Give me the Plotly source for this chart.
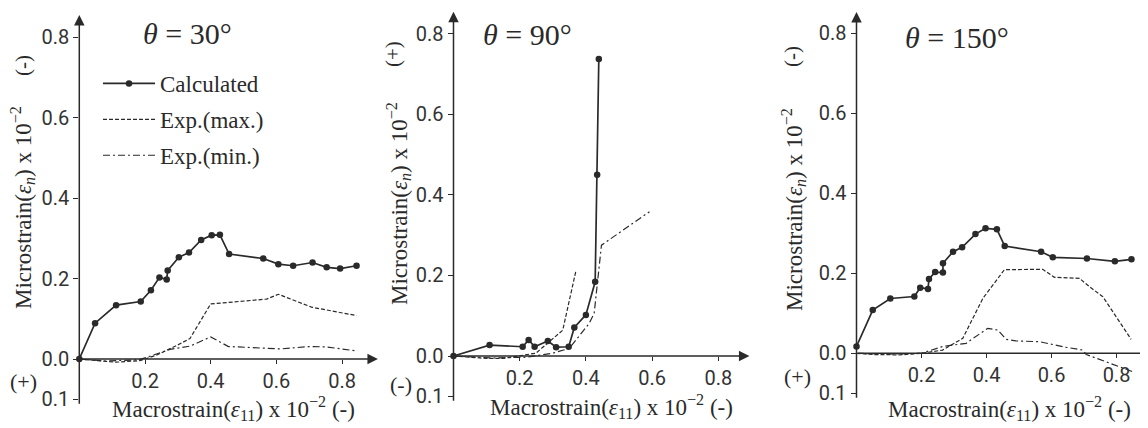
import plotly.graph_objects as go

# ---------------- data ----------------
# theta = 30
p1_calc_x = [0.0, 0.048, 0.112, 0.187, 0.218, 0.244, 0.266, 0.269, 0.303, 0.334, 0.371, 0.403, 0.428, 0.456, 0.56, 0.606, 0.651, 0.71, 0.753, 0.794, 0.844]
p1_calc_y = [0.0, 0.089, 0.134, 0.143, 0.171, 0.203, 0.198, 0.22, 0.253, 0.265, 0.296, 0.308, 0.309, 0.261, 0.25, 0.236, 0.232, 0.24, 0.228, 0.225, 0.232]
p1_max_x = [0.0, 0.11, 0.185, 0.236, 0.30, 0.337, 0.40, 0.484, 0.57, 0.606, 0.707, 0.844]
p1_max_y = [0.0, -0.008, -0.004, 0.01, 0.035, 0.051, 0.137, 0.1425, 0.149, 0.161, 0.129, 0.108]
p1_min_x = [0.0, 0.08, 0.18, 0.205, 0.276, 0.337, 0.40, 0.454, 0.484, 0.611, 0.702, 0.753, 0.844]
p1_min_y = [0.0, -0.005, -0.002, 0.004, 0.024, 0.032, 0.055, 0.031, 0.03, 0.025, 0.031, 0.03, 0.02]

# theta = 90
p2_calc_x = [0.0, 0.109, 0.209, 0.227, 0.245, 0.285, 0.31, 0.348, 0.365, 0.40, 0.428, 0.434, 0.439]
p2_calc_y = [0.0, 0.027, 0.023, 0.04, 0.023, 0.037, 0.022, 0.023, 0.071, 0.102, 0.184, 0.45, 0.737]
p2_max_x = [0.0, 0.10, 0.15, 0.249, 0.33, 0.37]
p2_max_y = [0.0, -0.006, -0.006, 0.007, 0.064, 0.212]
p2_min_x = [0.0, 0.12, 0.22, 0.30, 0.35, 0.41, 0.425, 0.447, 0.592]
p2_min_y = [0.0, -0.005, -0.003, 0.007, 0.019, 0.081, 0.106, 0.275, 0.358]

# theta = 150
p3_calc_x = [0.0, 0.05, 0.104, 0.178, 0.196, 0.22, 0.223, 0.242, 0.266, 0.266, 0.297, 0.325, 0.366, 0.397, 0.432, 0.456, 0.568, 0.604, 0.709, 0.795, 0.846]
p3_calc_y = [0.017, 0.108, 0.137, 0.142, 0.164, 0.161, 0.186, 0.203, 0.202, 0.225, 0.254, 0.265, 0.298, 0.3125, 0.31, 0.268, 0.254, 0.24, 0.237, 0.23, 0.235]
p3_max_x = [0.0, 0.05, 0.132, 0.2, 0.265, 0.327, 0.389, 0.455, 0.573, 0.609, 0.686, 0.717, 0.758, 0.845]
p3_max_y = [0.0, -0.003, -0.004, 0.0, 0.008, 0.0375, 0.1375, 0.209, 0.21, 0.19, 0.1875, 0.1665, 0.1415, 0.035]
p3_min_x = [0.0, 0.1, 0.2, 0.265, 0.337, 0.404, 0.435, 0.46, 0.49, 0.563, 0.645, 0.696, 0.707, 0.778, 0.85]
p3_min_y = [0.0, -0.002, 0.0, 0.017, 0.025, 0.0625, 0.058, 0.035, 0.031, 0.029, 0.015, 0.008, -0.003, -0.025, -0.046]

x_ticks = [0.2, 0.4, 0.6, 0.8]
x_ticktext = ["0.2", "0.4", "0.6", "0.8"]
y_ticks = [-0.1, 0.0, 0.2, 0.4, 0.6, 0.8]
y_ticktext = ["0.1", "0.0", "0.2", "0.4", "0.6", "0.8"]

titles = ["<i>θ</i> = 30°", "<i>θ</i> = 90°", "<i>θ</i> = 150°"]
series_names = ["Calculated", "Exp.(max.)", "Exp.(min.)"]
top_signs = ["(-)", "(+)", "(-)"]
bottom_signs = ["(+)", "(-)", "(+)"]

# ---------------- layout geometry (page pixels) ----------------
PAGE_W, PAGE_H = 1148, 428
OFF = 8                      # default body margin of the html page
W, H = PAGE_W - OFF, PAGE_H - OFF
INK = "#2a2a2a"
TICKFONT = dict(family="Roboto, Liberation Sans Narrow, sans-serif", size=20, color="#333333")
SERIF = "Liberation Serif, DejaVu Serif, serif"


def fx(px):
    return (px - OFF) / W


def fy(py):
    return 1 - (py - OFF) / H


panels = [
    dict(x0=79.3, xs=328.5, y0=359.0, ys=402.0, right=380.0, xtip=0.909, ytop=0.856, head=True,
         title=(187, 33), xt=(233, 408), yt=(22, 208), ts=(23, 66), bs=(23, 381)),
    dict(x0=453.5, xs=331.0, y0=356.0, ys=403.0, right=752.0, xtip=0.894, ytop=0.854, head=True,
         title=(527, 35), xt=(611, 406), yt=(398, 204), ts=(393, 54), bs=(401, 384)),
    dict(x0=856.5, xs=325.0, y0=353.3, ys=400.0, right=1148.0, xtip=0.895, ytop=0.853, head=False,
         title=(957, 38), xt=(1009, 408), yt=(793, 210), ts=(792, 57), bs=(797, 376)),
]
TOP_PX, BOT_PX = 10, 414

data = [
    (p1_calc_x, p1_calc_y, p1_max_x, p1_max_y, p1_min_x, p1_min_y),
    (p2_calc_x, p2_calc_y, p2_max_x, p2_max_y, p2_min_x, p2_min_y),
    (p3_calc_x, p3_calc_y, p3_max_x, p3_max_y, p3_min_x, p3_min_y),
]

fig = go.Figure()
annotations = []


def text_ann(px, py, text, size, angle=0):
    return dict(x=fx(px), y=fy(py), xref="paper", yref="paper", xanchor="center", yanchor="middle",
                text=text, textangle=angle, showarrow=False, font=dict(family=SERIF, size=size, color=INK))


for i, (pn, d) in enumerate(zip(panels, data)):
    k = "" if i == 0 else str(i + 1)
    xa, ya = "x" + k, "y" + k
    cx, cy, mx, my, nx, ny = d
    show = i == 0
    fig.add_trace(go.Scatter(x=cx, y=cy, mode="lines+markers", name=series_names[0],
                             line=dict(color=INK, width=1.7), marker=dict(size=6.5, color=INK),
                             xaxis=xa, yaxis=ya, showlegend=show, legendgroup="a", cliponaxis=False))
    fig.add_trace(go.Scatter(x=mx, y=my, mode="lines", name=series_names[1],
                             line=dict(color=INK, width=1.2, dash="4px,2px"),
                             xaxis=xa, yaxis=ya, showlegend=show, legendgroup="b"))
    fig.add_trace(go.Scatter(x=nx, y=ny, mode="lines", name=series_names[2],
                             line=dict(color=INK, width=1.2, dash="7px,3px,2px,3px"),
                             xaxis=xa, yaxis=ya, showlegend=show, legendgroup="c"))

    right = min(pn["right"], PAGE_W)
    xr = [0, (right - pn["x0"]) / pn["xs"]]
    yr = [(pn["y0"] - BOT_PX) / pn["ys"], (pn["y0"] - TOP_PX) / pn["ys"]]
    xdom = [fx(pn["x0"]), min(1.0, fx(right))]
    ydom = [fy(BOT_PX), fy(TOP_PX)]

    fig.layout["xaxis" + k] = dict(domain=xdom, range=xr, anchor="free", position=fy(pn["y0"]),
                                   showgrid=False, zeroline=False, showline=False,
                                   ticks="outside", ticklen=4, tickcolor=INK, tickwidth=1,
                                   tickvals=x_ticks, ticktext=x_ticktext, tickfont=TICKFONT)
    fig.layout["yaxis" + k] = dict(domain=ydom, range=yr, anchor=xa,
                                   showgrid=False, zeroline=False, showline=False,
                                   ticks="outside", ticklen=5, tickcolor=INK, tickwidth=1,
                                   tickvals=y_ticks, ticktext=y_ticktext, tickfont=TICKFONT)

    # axis arrows
    annotations.append(dict(x=0, y=pn["ytop"], ax=0, ay=-0.115, xref=xa, yref=ya, axref=xa, ayref=ya,
                            text="", showarrow=True, arrowhead=2, arrowsize=1.4, arrowwidth=1.5,
                            arrowcolor=INK, standoff=0, startstandoff=0))
    annotations.append(dict(x=pn["xtip"], y=0, ax=0, ay=0, xref=xa, yref=ya, axref=xa, ayref=ya,
                            text="", showarrow=True, arrowhead=2 if pn["head"] else 0,
                            arrowsize=1.4, arrowwidth=1.5, arrowcolor=INK, standoff=0, startstandoff=0))
    # texts
    annotations.append(text_ann(*pn["title"], titles[i], 30))
    annotations.append(text_ann(*pn["xt"], "Macrostrain(<i>ε</i><sub>11</sub>) x 10<sup>−2</sup> (-)", 23))
    annotations.append(text_ann(*pn["yt"], "Microstrain(<i>ε<sub>n</sub></i>) x 10<sup>−2</sup>", 23, -90))
    annotations.append(text_ann(*pn["ts"], top_signs[i], 21, -90))
    annotations.append(text_ann(*pn["bs"], bottom_signs[i], 22))

fig.update_layout(
    width=W, height=H,
    margin=dict(l=0, r=0, t=0, b=0),
    paper_bgcolor="white", plot_bgcolor="rgba(0,0,0,0)",
    annotations=annotations,
    showlegend=True,
    legend=dict(x=fx(98), y=fy(62), xanchor="left", yanchor="top",
                bgcolor="rgba(0,0,0,0)", font=dict(family=SERIF, size=23, color=INK),
                traceorder="grouped", tracegroupgap=3, itemwidth=52),
)

fig.write_html("out.html")
